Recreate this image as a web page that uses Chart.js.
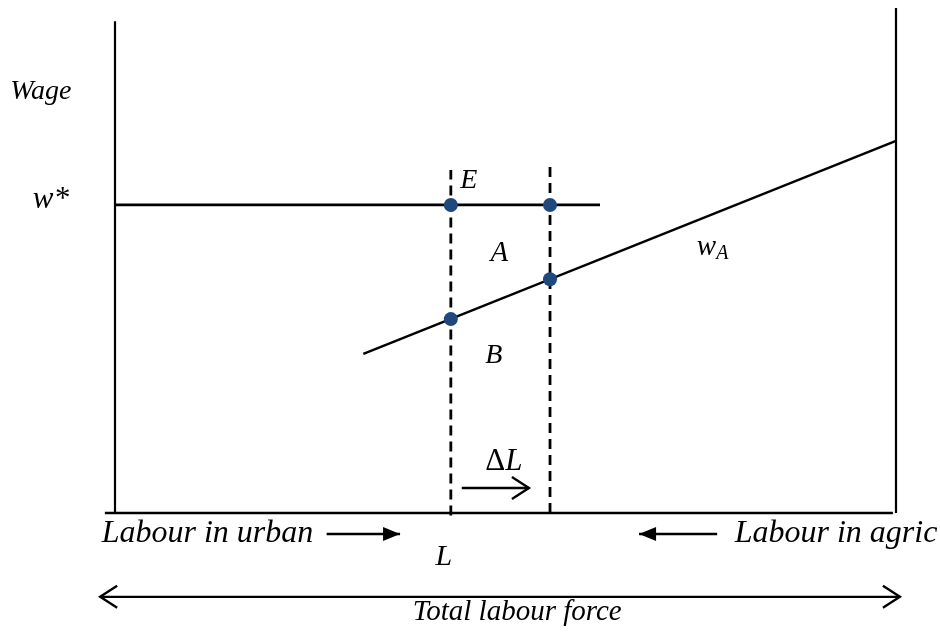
<!DOCTYPE html>
<html>
<head>
<meta charset="utf-8">
<script src="https://cdn.jsdelivr.net/npm/chart.js@4"></script>
<style>
  html, body { margin: 0; padding: 0; background: #fff; }
  #c { display: block; }
</style>
</head>
<body>
<canvas id="c" width="940" height="635"></canvas>
<script>
// ---- data (abstract units: labour 0..100, wage 0..100) ----
const leftAxis   = [[0, 0], [0, 97.4]];
const rightAxis  = [[100, 0], [100, 100]];
const baseAxis   = [[-1.3, 0], [99.6, 0]];
const wStarLine  = [[0, 61.0], [62.1, 61.0]];
const wALine     = [[31.8, 31.5], [100, 73.7]];
const dashL      = [[43.0, -0.5], [43.0, 67.9]];
const dashL2     = [[55.7, 0], [55.7, 69.1]];
const keyPoints  = [[43.0, 61.0], [55.7, 61.0], [55.7, 46.3], [43.0, 38.4]];

const labelTexts = ['Wage', 'w*', 'E', 'A', 'B', 'L', 'Labour in urban', 'Labour in agric', 'Total labour force'];
const labelX     = [-9.5, -8.2, 45.3, 49.2, 48.5, 42.1, -1.7, 105.3, 51.5];
const labelY     = [83.4, 62.0, 65.9, 51.5, 31.1, -8.7, -4.0, -4.0, -19.6];
const labelAlign = ['center', 'center', 'center', 'center', 'center', 'center', 'left', 'right', 'center'];
const labelSize  = [28, 31, 28, 29, 28, 30, 32, 32, 29];

const toPts = a => a.map(p => ({x: p[0], y: p[1]}));

const FONT = '"Liberation Serif", "Times New Roman", serif';

function lineDs(pts, width, dash) {
  return {
    data: toPts(pts), showLine: true, borderColor: '#000', borderWidth: width,
    borderDash: dash || [], pointRadius: 0, pointHoverRadius: 0, clip: false,
    borderCapStyle: 'butt', tension: 0
  };
}

const annot = {
  id: 'annot',
  afterDraw(chart) {
    const ctx = chart.ctx;
    const xs = chart.scales.x, ys = chart.scales.y;
    const X = v => xs.getPixelForValue(v), Y = v => ys.getPixelForValue(v);
    ctx.save();
    ctx.fillStyle = '#000';
    ctx.strokeStyle = '#000';
    // text labels
    for (let i = 0; i < labelTexts.length; i++) {
      ctx.font = 'italic ' + labelSize[i] + 'px ' + FONT;
      ctx.textAlign = labelAlign[i];
      ctx.textBaseline = 'middle';
      ctx.fillText(labelTexts[i], X(labelX[i]), Y(labelY[i]));
    }
    // w_A label
    ctx.textAlign = 'left';
    ctx.textBaseline = 'alphabetic';
    ctx.font = 'italic 29px ' + FONT;
    const wx = X(74.5), wy = Y(51.1);
    ctx.fillText('w', wx, wy);
    const ww = ctx.measureText('w').width;
    ctx.font = 'italic 20px ' + FONT;
    ctx.fillText('A', wx + ww, wy + 4);
    // Delta L label
    ctx.font = '31px ' + FONT;
    const dW = ctx.measureText('\u0394').width;
    ctx.font = 'italic 31px ' + FONT;
    const lW = ctx.measureText('L').width;
    const cx = X(49.8), cy = Y(10.1);
    const sx = cx - (dW + lW) / 2;
    ctx.textBaseline = 'middle';
    ctx.font = '31px ' + FONT;
    ctx.fillText('\u0394', sx, cy);
    ctx.font = 'italic 31px ' + FONT;
    ctx.fillText('L', sx + dW, cy);

    // arrows
    function arrow(x1, y1, x2, y2, filled, both) {
      const px1 = X(x1), py1 = Y(y1), px2 = X(x2), py2 = Y(y2);
      ctx.lineWidth = 2.4;
      ctx.beginPath(); ctx.moveTo(px1, py1); ctx.lineTo(px2, py2); ctx.stroke();
      const head = (hx, hy, dir) => {
        if (filled) {
          ctx.beginPath();
          ctx.moveTo(hx, hy);
          ctx.lineTo(hx - dir * 17, hy - 7);
          ctx.lineTo(hx - dir * 17, hy + 7);
          ctx.closePath(); ctx.fill();
        } else {
          ctx.beginPath();
          ctx.moveTo(hx - dir * 17, hy - 11);
          ctx.lineTo(hx, hy);
          ctx.lineTo(hx - dir * 17, hy + 11);
          ctx.stroke();
        }
      };
      head(px2, py2, Math.sign(px2 - px1));
      if (both) head(px1, py1, Math.sign(px1 - px2));
    }
    arrow(27.1, -4.16, 36.5, -4.16, true, false);
    arrow(77.1, -4.16, 67.1, -4.16, true, false);
    arrow(44.4, 4.95, 53.0, 4.95, false, false);
    arrow(-1.9, -16.6, 100.5, -16.6, false, true);
    ctx.restore();
  }
};

new Chart(document.getElementById('c'), {
  type: 'scatter',
  data: {
    datasets: [
      {
        data: toPts(keyPoints), showLine: false, pointRadius: 7, pointHoverRadius: 7,
        backgroundColor: '#1f497d', borderColor: '#1f497d', borderWidth: 0, clip: false
      },
      lineDs(dashL, 2.8, [10, 6]),
      lineDs(dashL2, 2.8, [10, 6]),
      lineDs(wStarLine, 2.8),
      lineDs(wALine, 2.3),
      lineDs(leftAxis, 2.2),
      lineDs(rightAxis, 2.2),
      lineDs(baseAxis, 2.6)
    ]
  },
  options: {
    responsive: false,
    animation: false,
    devicePixelRatio: 1,
    layout: { padding: { left: 115, right: 44, top: 8, bottom: 122 } },
    plugins: { legend: { display: false }, tooltip: { enabled: false } },
    events: [],
    scales: {
      x: { type: 'linear', min: 0, max: 100, display: false },
      y: { type: 'linear', min: 0, max: 100, display: false }
    }
  },
  plugins: [annot]
});
</script>
</body>
</html>
